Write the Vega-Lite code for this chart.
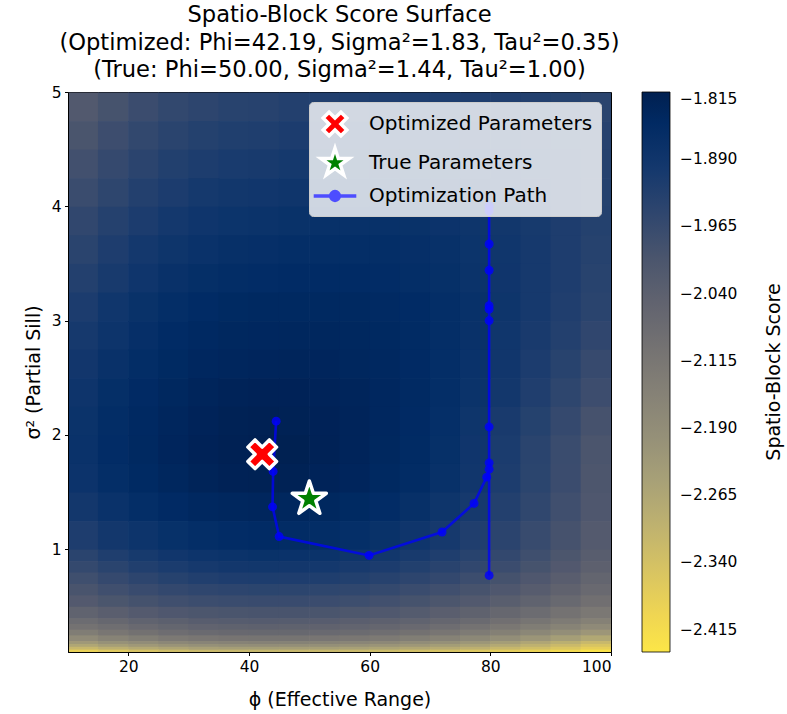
{
"$schema":"https://vega.github.io/schema/vega-lite/v6.json",
"width":543,"height":560,
"padding":{"left":24,"top":4,"right":0,"bottom":4},
"background":"white",
"config":{"font":"DejaVu Sans","view":{"stroke":"black","strokeWidth":1},
"axis":{"labelFontSize":15.5,"titleFontSize":19,"labelColor":"black","titleColor":"black","tickColor":"black","domainColor":"black","tickSize":3.5,"labelPadding":3.5,"grid":false,"titleFontWeight":"normal","labelFont":"DejaVu Sans","titleFont":"DejaVu Sans","format":"d"}},
"title":{"text":["Spatio-Block Score Surface","(Optimized: Phi=42.19, Sigma²=1.83, Tau²=0.35)","(True: Phi=50.00, Sigma²=1.44, Tau²=1.00)"],"fontSize":22.6,"fontWeight":"normal","lineHeight":27.5,"offset":3,"anchor":"middle","color":"black","font":"DejaVu Sans"},
"layer":[
{"data":{"values":[
{"p":10,"s":4.75,"t":5,"v":-2.016},{"p":15,"s":4.75,"t":5,"v":-1.992},{"p":20,"s":4.75,"t":5,"v":-1.972},{"p":25,"s":4.75,"t":5,"v":-1.956},{"p":30,"s":4.75,"t":5,"v":-1.945},{"p":35,"s":4.75,"t":5,"v":-1.938},{"p":40,"s":4.75,"t":5,"v":-1.935},{"p":45,"s":4.75,"t":5,"v":-1.929},{"p":50,"s":4.75,"t":5,"v":-1.924},{"p":55,"s":4.75,"t":5,"v":-1.921},{"p":60,"s":4.75,"t":5,"v":-1.918},{"p":65,"s":4.75,"t":5,"v":-1.917},{"p":70,"s":4.75,"t":5,"v":-1.917},{"p":75,"s":4.75,"t":5,"v":-1.919},{"p":80,"s":4.75,"t":5,"v":-1.922},{"p":85,"s":4.75,"t":5,"v":-1.927},{"p":90,"s":4.75,"t":5,"v":-1.933},{"p":95,"s":4.75,"t":5,"v":-1.940},
{"p":10,"s":4.5,"t":4.75,"v":-1.999},{"p":15,"s":4.5,"t":4.75,"v":-1.975},{"p":20,"s":4.5,"t":4.75,"v":-1.956},{"p":25,"s":4.5,"t":4.75,"v":-1.941},{"p":30,"s":4.5,"t":4.75,"v":-1.930},{"p":35,"s":4.5,"t":4.75,"v":-1.923},{"p":40,"s":4.5,"t":4.75,"v":-1.920},{"p":45,"s":4.5,"t":4.75,"v":-1.915},{"p":50,"s":4.5,"t":4.75,"v":-1.910},{"p":55,"s":4.5,"t":4.75,"v":-1.907},{"p":60,"s":4.5,"t":4.75,"v":-1.905},{"p":65,"s":4.5,"t":4.75,"v":-1.905},{"p":70,"s":4.5,"t":4.75,"v":-1.906},{"p":75,"s":4.5,"t":4.75,"v":-1.910},{"p":80,"s":4.5,"t":4.75,"v":-1.913},{"p":85,"s":4.5,"t":4.75,"v":-1.919},{"p":90,"s":4.5,"t":4.75,"v":-1.927},{"p":95,"s":4.5,"t":4.75,"v":-1.935},
{"p":10,"s":4.25,"t":4.5,"v":-1.984},{"p":15,"s":4.25,"t":4.5,"v":-1.961},{"p":20,"s":4.25,"t":4.5,"v":-1.942},{"p":25,"s":4.25,"t":4.5,"v":-1.927},{"p":30,"s":4.25,"t":4.5,"v":-1.917},{"p":35,"s":4.25,"t":4.5,"v":-1.910},{"p":40,"s":4.25,"t":4.5,"v":-1.907},{"p":45,"s":4.25,"t":4.5,"v":-1.903},{"p":50,"s":4.25,"t":4.5,"v":-1.899},{"p":55,"s":4.25,"t":4.5,"v":-1.897},{"p":60,"s":4.25,"t":4.5,"v":-1.895},{"p":65,"s":4.25,"t":4.5,"v":-1.897},{"p":70,"s":4.25,"t":4.5,"v":-1.899},{"p":75,"s":4.25,"t":4.5,"v":-1.903},{"p":80,"s":4.25,"t":4.5,"v":-1.907},{"p":85,"s":4.25,"t":4.5,"v":-1.915},{"p":90,"s":4.25,"t":4.5,"v":-1.924},{"p":95,"s":4.25,"t":4.5,"v":-1.934},
{"p":10,"s":4.0,"t":4.25,"v":-1.969},{"p":15,"s":4.0,"t":4.25,"v":-1.947},{"p":20,"s":4.0,"t":4.25,"v":-1.928},{"p":25,"s":4.0,"t":4.25,"v":-1.914},{"p":30,"s":4.0,"t":4.25,"v":-1.903},{"p":35,"s":4.0,"t":4.25,"v":-1.897},{"p":40,"s":4.0,"t":4.25,"v":-1.894},{"p":45,"s":4.0,"t":4.25,"v":-1.889},{"p":50,"s":4.0,"t":4.25,"v":-1.886},{"p":55,"s":4.0,"t":4.25,"v":-1.885},{"p":60,"s":4.0,"t":4.25,"v":-1.885},{"p":65,"s":4.0,"t":4.25,"v":-1.887},{"p":70,"s":4.0,"t":4.25,"v":-1.889},{"p":75,"s":4.0,"t":4.25,"v":-1.895},{"p":80,"s":4.0,"t":4.25,"v":-1.901},{"p":85,"s":4.0,"t":4.25,"v":-1.911},{"p":90,"s":4.0,"t":4.25,"v":-1.921},{"p":95,"s":4.0,"t":4.25,"v":-1.933},
{"p":10,"s":3.75,"t":4.0,"v":-1.954},{"p":15,"s":3.75,"t":4.0,"v":-1.932},{"p":20,"s":3.75,"t":4.0,"v":-1.914},{"p":25,"s":3.75,"t":4.0,"v":-1.900},{"p":30,"s":3.75,"t":4.0,"v":-1.890},{"p":35,"s":3.75,"t":4.0,"v":-1.883},{"p":40,"s":3.75,"t":4.0,"v":-1.881},{"p":45,"s":3.75,"t":4.0,"v":-1.877},{"p":50,"s":3.75,"t":4.0,"v":-1.874},{"p":55,"s":3.75,"t":4.0,"v":-1.874},{"p":60,"s":3.75,"t":4.0,"v":-1.875},{"p":65,"s":3.75,"t":4.0,"v":-1.877},{"p":70,"s":3.75,"t":4.0,"v":-1.882},{"p":75,"s":3.75,"t":4.0,"v":-1.888},{"p":80,"s":3.75,"t":4.0,"v":-1.897},{"p":85,"s":3.75,"t":4.0,"v":-1.906},{"p":90,"s":3.75,"t":4.0,"v":-1.918},{"p":95,"s":3.75,"t":4.0,"v":-1.931},
{"p":10,"s":3.5,"t":3.75,"v":-1.940},{"p":15,"s":3.5,"t":3.75,"v":-1.919},{"p":20,"s":3.5,"t":3.75,"v":-1.901},{"p":25,"s":3.5,"t":3.75,"v":-1.888},{"p":30,"s":3.5,"t":3.75,"v":-1.878},{"p":35,"s":3.5,"t":3.75,"v":-1.871},{"p":40,"s":3.5,"t":3.75,"v":-1.869},{"p":45,"s":3.5,"t":3.75,"v":-1.865},{"p":50,"s":3.5,"t":3.75,"v":-1.863},{"p":55,"s":3.5,"t":3.75,"v":-1.863},{"p":60,"s":3.5,"t":3.75,"v":-1.865},{"p":65,"s":3.5,"t":3.75,"v":-1.869},{"p":70,"s":3.5,"t":3.75,"v":-1.875},{"p":75,"s":3.5,"t":3.75,"v":-1.883},{"p":80,"s":3.5,"t":3.75,"v":-1.893},{"p":85,"s":3.5,"t":3.75,"v":-1.904},{"p":90,"s":3.5,"t":3.75,"v":-1.918},{"p":95,"s":3.5,"t":3.75,"v":-1.934},
{"p":10,"s":3.25,"t":3.5,"v":-1.928},{"p":15,"s":3.25,"t":3.5,"v":-1.907},{"p":20,"s":3.25,"t":3.5,"v":-1.890},{"p":25,"s":3.25,"t":3.5,"v":-1.876},{"p":30,"s":3.25,"t":3.5,"v":-1.867},{"p":35,"s":3.25,"t":3.5,"v":-1.861},{"p":40,"s":3.25,"t":3.5,"v":-1.858},{"p":45,"s":3.25,"t":3.5,"v":-1.856},{"p":50,"s":3.25,"t":3.5,"v":-1.855},{"p":55,"s":3.25,"t":3.5,"v":-1.855},{"p":60,"s":3.25,"t":3.5,"v":-1.858},{"p":65,"s":3.25,"t":3.5,"v":-1.863},{"p":70,"s":3.25,"t":3.5,"v":-1.870},{"p":75,"s":3.25,"t":3.5,"v":-1.880},{"p":80,"s":3.25,"t":3.5,"v":-1.891},{"p":85,"s":3.25,"t":3.5,"v":-1.904},{"p":90,"s":3.25,"t":3.5,"v":-1.919},{"p":95,"s":3.25,"t":3.5,"v":-1.937},
{"p":10,"s":3.0,"t":3.25,"v":-1.914},{"p":15,"s":3.0,"t":3.25,"v":-1.893},{"p":20,"s":3.0,"t":3.25,"v":-1.877},{"p":25,"s":3.0,"t":3.25,"v":-1.864},{"p":30,"s":3.0,"t":3.25,"v":-1.854},{"p":35,"s":3.0,"t":3.25,"v":-1.848},{"p":40,"s":3.0,"t":3.25,"v":-1.846},{"p":45,"s":3.0,"t":3.25,"v":-1.844},{"p":50,"s":3.0,"t":3.25,"v":-1.844},{"p":55,"s":3.0,"t":3.25,"v":-1.845},{"p":60,"s":3.0,"t":3.25,"v":-1.850},{"p":65,"s":3.0,"t":3.25,"v":-1.856},{"p":70,"s":3.0,"t":3.25,"v":-1.864},{"p":75,"s":3.0,"t":3.25,"v":-1.875},{"p":80,"s":3.0,"t":3.25,"v":-1.888},{"p":85,"s":3.0,"t":3.25,"v":-1.904},{"p":90,"s":3.0,"t":3.25,"v":-1.922},{"p":95,"s":3.0,"t":3.25,"v":-1.941},
{"p":10,"s":2.75,"t":3.0,"v":-1.905},{"p":15,"s":2.75,"t":3.0,"v":-1.885},{"p":20,"s":2.75,"t":3.0,"v":-1.869},{"p":25,"s":2.75,"t":3.0,"v":-1.856},{"p":30,"s":2.75,"t":3.0,"v":-1.847},{"p":35,"s":2.75,"t":3.0,"v":-1.841},{"p":40,"s":2.75,"t":3.0,"v":-1.839},{"p":45,"s":2.75,"t":3.0,"v":-1.838},{"p":50,"s":2.75,"t":3.0,"v":-1.838},{"p":55,"s":2.75,"t":3.0,"v":-1.840},{"p":60,"s":2.75,"t":3.0,"v":-1.846},{"p":65,"s":2.75,"t":3.0,"v":-1.853},{"p":70,"s":2.75,"t":3.0,"v":-1.864},{"p":75,"s":2.75,"t":3.0,"v":-1.876},{"p":80,"s":2.75,"t":3.0,"v":-1.892},{"p":85,"s":2.75,"t":3.0,"v":-1.909},{"p":90,"s":2.75,"t":3.0,"v":-1.929},{"p":95,"s":2.75,"t":3.0,"v":-1.951},
{"p":10,"s":2.5,"t":2.75,"v":-1.896},{"p":15,"s":2.5,"t":2.75,"v":-1.876},{"p":20,"s":2.5,"t":2.75,"v":-1.861},{"p":25,"s":2.5,"t":2.75,"v":-1.848},{"p":30,"s":2.5,"t":2.75,"v":-1.839},{"p":35,"s":2.5,"t":2.75,"v":-1.834},{"p":40,"s":2.5,"t":2.75,"v":-1.832},{"p":45,"s":2.5,"t":2.75,"v":-1.831},{"p":50,"s":2.5,"t":2.75,"v":-1.832},{"p":55,"s":2.5,"t":2.75,"v":-1.837},{"p":60,"s":2.5,"t":2.75,"v":-1.843},{"p":65,"s":2.5,"t":2.75,"v":-1.852},{"p":70,"s":2.5,"t":2.75,"v":-1.864},{"p":75,"s":2.5,"t":2.75,"v":-1.879},{"p":80,"s":2.5,"t":2.75,"v":-1.895},{"p":85,"s":2.5,"t":2.75,"v":-1.915},{"p":90,"s":2.5,"t":2.75,"v":-1.937},{"p":95,"s":2.5,"t":2.75,"v":-1.963},
{"p":10,"s":2.25,"t":2.5,"v":-1.886},{"p":15,"s":2.25,"t":2.5,"v":-1.867},{"p":20,"s":2.25,"t":2.5,"v":-1.852},{"p":25,"s":2.25,"t":2.5,"v":-1.840},{"p":30,"s":2.25,"t":2.5,"v":-1.831},{"p":35,"s":2.25,"t":2.5,"v":-1.825},{"p":40,"s":2.25,"t":2.5,"v":-1.823},{"p":45,"s":2.25,"t":2.5,"v":-1.823},{"p":50,"s":2.25,"t":2.5,"v":-1.826},{"p":55,"s":2.25,"t":2.5,"v":-1.831},{"p":60,"s":2.25,"t":2.5,"v":-1.839},{"p":65,"s":2.25,"t":2.5,"v":-1.850},{"p":70,"s":2.25,"t":2.5,"v":-1.864},{"p":75,"s":2.25,"t":2.5,"v":-1.880},{"p":80,"s":2.25,"t":2.5,"v":-1.899},{"p":85,"s":2.25,"t":2.5,"v":-1.922},{"p":90,"s":2.25,"t":2.5,"v":-1.947},{"p":95,"s":2.25,"t":2.5,"v":-1.975},
{"p":10,"s":2.0,"t":2.25,"v":-1.881},{"p":15,"s":2.0,"t":2.25,"v":-1.862},{"p":20,"s":2.0,"t":2.25,"v":-1.847},{"p":25,"s":2.0,"t":2.25,"v":-1.835},{"p":30,"s":2.0,"t":2.25,"v":-1.826},{"p":35,"s":2.0,"t":2.25,"v":-1.821},{"p":40,"s":2.0,"t":2.25,"v":-1.819},{"p":45,"s":2.0,"t":2.25,"v":-1.820},{"p":50,"s":2.0,"t":2.25,"v":-1.823},{"p":55,"s":2.0,"t":2.25,"v":-1.829},{"p":60,"s":2.0,"t":2.25,"v":-1.839},{"p":65,"s":2.0,"t":2.25,"v":-1.852},{"p":70,"s":2.0,"t":2.25,"v":-1.868},{"p":75,"s":2.0,"t":2.25,"v":-1.887},{"p":80,"s":2.0,"t":2.25,"v":-1.909},{"p":85,"s":2.0,"t":2.25,"v":-1.933},{"p":90,"s":2.0,"t":2.25,"v":-1.961},{"p":95,"s":2.0,"t":2.25,"v":-1.991},
{"p":10,"s":1.75,"t":2.0,"v":-1.879},{"p":15,"s":1.75,"t":2.0,"v":-1.859},{"p":20,"s":1.75,"t":2.0,"v":-1.845},{"p":25,"s":1.75,"t":2.0,"v":-1.833},{"p":30,"s":1.75,"t":2.0,"v":-1.823},{"p":35,"s":1.75,"t":2.0,"v":-1.819},{"p":40,"s":1.75,"t":2.0,"v":-1.816},{"p":45,"s":1.75,"t":2.0,"v":-1.817},{"p":50,"s":1.75,"t":2.0,"v":-1.822},{"p":55,"s":1.75,"t":2.0,"v":-1.829},{"p":60,"s":1.75,"t":2.0,"v":-1.840},{"p":65,"s":1.75,"t":2.0,"v":-1.853},{"p":70,"s":1.75,"t":2.0,"v":-1.870},{"p":75,"s":1.75,"t":2.0,"v":-1.891},{"p":80,"s":1.75,"t":2.0,"v":-1.913},{"p":85,"s":1.75,"t":2.0,"v":-1.940},{"p":90,"s":1.75,"t":2.0,"v":-1.969},{"p":95,"s":1.75,"t":2.0,"v":-2.001},
{"p":10,"s":1.5,"t":1.75,"v":-1.882},{"p":15,"s":1.5,"t":1.75,"v":-1.863},{"p":20,"s":1.5,"t":1.75,"v":-1.849},{"p":25,"s":1.5,"t":1.75,"v":-1.837},{"p":30,"s":1.5,"t":1.75,"v":-1.827},{"p":35,"s":1.5,"t":1.75,"v":-1.822},{"p":40,"s":1.5,"t":1.75,"v":-1.820},{"p":45,"s":1.5,"t":1.75,"v":-1.821},{"p":50,"s":1.5,"t":1.75,"v":-1.826},{"p":55,"s":1.5,"t":1.75,"v":-1.833},{"p":60,"s":1.5,"t":1.75,"v":-1.844},{"p":65,"s":1.5,"t":1.75,"v":-1.857},{"p":70,"s":1.5,"t":1.75,"v":-1.874},{"p":75,"s":1.5,"t":1.75,"v":-1.894},{"p":80,"s":1.5,"t":1.75,"v":-1.917},{"p":85,"s":1.5,"t":1.75,"v":-1.943},{"p":90,"s":1.5,"t":1.75,"v":-1.972},{"p":95,"s":1.5,"t":1.75,"v":-2.005},
{"p":10,"s":1.25,"t":1.5,"v":-1.898},{"p":15,"s":1.25,"t":1.5,"v":-1.879},{"p":20,"s":1.25,"t":1.5,"v":-1.864},{"p":25,"s":1.25,"t":1.5,"v":-1.852},{"p":30,"s":1.25,"t":1.5,"v":-1.843},{"p":35,"s":1.25,"t":1.5,"v":-1.838},{"p":40,"s":1.25,"t":1.5,"v":-1.835},{"p":45,"s":1.25,"t":1.5,"v":-1.837},{"p":50,"s":1.25,"t":1.5,"v":-1.840},{"p":55,"s":1.25,"t":1.5,"v":-1.848},{"p":60,"s":1.25,"t":1.5,"v":-1.858},{"p":65,"s":1.25,"t":1.5,"v":-1.871},{"p":70,"s":1.25,"t":1.5,"v":-1.887},{"p":75,"s":1.25,"t":1.5,"v":-1.905},{"p":80,"s":1.25,"t":1.5,"v":-1.928},{"p":85,"s":1.25,"t":1.5,"v":-1.952},{"p":90,"s":1.25,"t":1.5,"v":-1.980},{"p":95,"s":1.25,"t":1.5,"v":-2.010},
{"p":10,"s":1.0,"t":1.25,"v":-1.918},{"p":15,"s":1.0,"t":1.25,"v":-1.899},{"p":20,"s":1.0,"t":1.25,"v":-1.885},{"p":25,"s":1.0,"t":1.25,"v":-1.873},{"p":30,"s":1.0,"t":1.25,"v":-1.863},{"p":35,"s":1.0,"t":1.25,"v":-1.858},{"p":40,"s":1.0,"t":1.25,"v":-1.856},{"p":45,"s":1.0,"t":1.25,"v":-1.857},{"p":50,"s":1.0,"t":1.25,"v":-1.861},{"p":55,"s":1.0,"t":1.25,"v":-1.868},{"p":60,"s":1.0,"t":1.25,"v":-1.877},{"p":65,"s":1.0,"t":1.25,"v":-1.890},{"p":70,"s":1.0,"t":1.25,"v":-1.905},{"p":75,"s":1.0,"t":1.25,"v":-1.922},{"p":80,"s":1.0,"t":1.25,"v":-1.942},{"p":85,"s":1.0,"t":1.25,"v":-1.966},{"p":90,"s":1.0,"t":1.25,"v":-1.991},{"p":95,"s":1.0,"t":1.25,"v":-2.020},
{"p":10,"s":0.9,"t":1.0,"v":-1.940},{"p":15,"s":0.9,"t":1.0,"v":-1.921},{"p":20,"s":0.9,"t":1.0,"v":-1.906},{"p":25,"s":0.9,"t":1.0,"v":-1.894},{"p":30,"s":0.9,"t":1.0,"v":-1.885},{"p":35,"s":0.9,"t":1.0,"v":-1.880},{"p":40,"s":0.9,"t":1.0,"v":-1.877},{"p":45,"s":0.9,"t":1.0,"v":-1.879},{"p":50,"s":0.9,"t":1.0,"v":-1.881},{"p":55,"s":0.9,"t":1.0,"v":-1.888},{"p":60,"s":0.9,"t":1.0,"v":-1.897},{"p":65,"s":0.9,"t":1.0,"v":-1.908},{"p":70,"s":0.9,"t":1.0,"v":-1.921},{"p":75,"s":0.9,"t":1.0,"v":-1.938},{"p":80,"s":0.9,"t":1.0,"v":-1.958},{"p":85,"s":0.9,"t":1.0,"v":-1.979},{"p":90,"s":0.9,"t":1.0,"v":-2.003},{"p":95,"s":0.9,"t":1.0,"v":-2.030},
{"p":10,"s":0.8,"t":0.9,"v":-1.959},{"p":15,"s":0.8,"t":0.9,"v":-1.940},{"p":20,"s":0.8,"t":0.9,"v":-1.925},{"p":25,"s":0.8,"t":0.9,"v":-1.913},{"p":30,"s":0.8,"t":0.9,"v":-1.904},{"p":35,"s":0.8,"t":0.9,"v":-1.899},{"p":40,"s":0.8,"t":0.9,"v":-1.897},{"p":45,"s":0.8,"t":0.9,"v":-1.898},{"p":50,"s":0.8,"t":0.9,"v":-1.901},{"p":55,"s":0.8,"t":0.9,"v":-1.907},{"p":60,"s":0.8,"t":0.9,"v":-1.915},{"p":65,"s":0.8,"t":0.9,"v":-1.926},{"p":70,"s":0.8,"t":0.9,"v":-1.939},{"p":75,"s":0.8,"t":0.9,"v":-1.954},{"p":80,"s":0.8,"t":0.9,"v":-1.972},{"p":85,"s":0.8,"t":0.9,"v":-1.992},{"p":90,"s":0.8,"t":0.9,"v":-2.015},{"p":95,"s":0.8,"t":0.9,"v":-2.040},
{"p":10,"s":0.7,"t":0.8,"v":-1.979},{"p":15,"s":0.7,"t":0.8,"v":-1.960},{"p":20,"s":0.7,"t":0.8,"v":-1.946},{"p":25,"s":0.7,"t":0.8,"v":-1.934},{"p":30,"s":0.7,"t":0.8,"v":-1.924},{"p":35,"s":0.7,"t":0.8,"v":-1.919},{"p":40,"s":0.7,"t":0.8,"v":-1.917},{"p":45,"s":0.7,"t":0.8,"v":-1.918},{"p":50,"s":0.7,"t":0.8,"v":-1.921},{"p":55,"s":0.7,"t":0.8,"v":-1.927},{"p":60,"s":0.7,"t":0.8,"v":-1.935},{"p":65,"s":0.7,"t":0.8,"v":-1.945},{"p":70,"s":0.7,"t":0.8,"v":-1.958},{"p":75,"s":0.7,"t":0.8,"v":-1.973},{"p":80,"s":0.7,"t":0.8,"v":-1.989},{"p":85,"s":0.7,"t":0.8,"v":-2.009},{"p":90,"s":0.7,"t":0.8,"v":-2.031},{"p":95,"s":0.7,"t":0.8,"v":-2.055},
{"p":10,"s":0.6,"t":0.7,"v":-1.997},{"p":15,"s":0.6,"t":0.7,"v":-1.980},{"p":20,"s":0.6,"t":0.7,"v":-1.968},{"p":25,"s":0.6,"t":0.7,"v":-1.958},{"p":30,"s":0.6,"t":0.7,"v":-1.950},{"p":35,"s":0.6,"t":0.7,"v":-1.946},{"p":40,"s":0.6,"t":0.7,"v":-1.943},{"p":45,"s":0.6,"t":0.7,"v":-1.944},{"p":50,"s":0.6,"t":0.7,"v":-1.947},{"p":55,"s":0.6,"t":0.7,"v":-1.952},{"p":60,"s":0.6,"t":0.7,"v":-1.959},{"p":65,"s":0.6,"t":0.7,"v":-1.969},{"p":70,"s":0.6,"t":0.7,"v":-1.981},{"p":75,"s":0.6,"t":0.7,"v":-1.994},{"p":80,"s":0.6,"t":0.7,"v":-2.010},{"p":85,"s":0.6,"t":0.7,"v":-2.028},{"p":90,"s":0.6,"t":0.7,"v":-2.048},{"p":95,"s":0.6,"t":0.7,"v":-2.070},
{"p":10,"s":0.5,"t":0.6,"v":-2.018},{"p":15,"s":0.5,"t":0.6,"v":-2.002},{"p":20,"s":0.5,"t":0.6,"v":-1.990},{"p":25,"s":0.5,"t":0.6,"v":-1.981},{"p":30,"s":0.5,"t":0.6,"v":-1.973},{"p":35,"s":0.5,"t":0.6,"v":-1.969},{"p":40,"s":0.5,"t":0.6,"v":-1.967},{"p":45,"s":0.5,"t":0.6,"v":-1.968},{"p":50,"s":0.5,"t":0.6,"v":-1.971},{"p":55,"s":0.5,"t":0.6,"v":-1.976},{"p":60,"s":0.5,"t":0.6,"v":-1.983},{"p":65,"s":0.5,"t":0.6,"v":-1.992},{"p":70,"s":0.5,"t":0.6,"v":-2.003},{"p":75,"s":0.5,"t":0.6,"v":-2.016},{"p":80,"s":0.5,"t":0.6,"v":-2.032},{"p":85,"s":0.5,"t":0.6,"v":-2.049},{"p":90,"s":0.5,"t":0.6,"v":-2.068},{"p":95,"s":0.5,"t":0.6,"v":-2.090},
{"p":10,"s":0.4,"t":0.5,"v":-2.049},{"p":15,"s":0.4,"t":0.5,"v":-2.033},{"p":20,"s":0.4,"t":0.5,"v":-2.020},{"p":25,"s":0.4,"t":0.5,"v":-2.010},{"p":30,"s":0.4,"t":0.5,"v":-2.003},{"p":35,"s":0.4,"t":0.5,"v":-1.999},{"p":40,"s":0.4,"t":0.5,"v":-1.997},{"p":45,"s":0.4,"t":0.5,"v":-1.998},{"p":50,"s":0.4,"t":0.5,"v":-2.000},{"p":55,"s":0.4,"t":0.5,"v":-2.006},{"p":60,"s":0.4,"t":0.5,"v":-2.012},{"p":65,"s":0.4,"t":0.5,"v":-2.022},{"p":70,"s":0.4,"t":0.5,"v":-2.033},{"p":75,"s":0.4,"t":0.5,"v":-2.046},{"p":80,"s":0.4,"t":0.5,"v":-2.062},{"p":85,"s":0.4,"t":0.5,"v":-2.079},{"p":90,"s":0.4,"t":0.5,"v":-2.098},{"p":95,"s":0.4,"t":0.5,"v":-2.120},
{"p":10,"s":0.35,"t":0.4,"v":-2.079},{"p":15,"s":0.35,"t":0.4,"v":-2.062},{"p":20,"s":0.35,"t":0.4,"v":-2.049},{"p":25,"s":0.35,"t":0.4,"v":-2.039},{"p":30,"s":0.35,"t":0.4,"v":-2.030},{"p":35,"s":0.35,"t":0.4,"v":-2.026},{"p":40,"s":0.35,"t":0.4,"v":-2.024},{"p":45,"s":0.35,"t":0.4,"v":-2.025},{"p":50,"s":0.35,"t":0.4,"v":-2.028},{"p":55,"s":0.35,"t":0.4,"v":-2.033},{"p":60,"s":0.35,"t":0.4,"v":-2.040},{"p":65,"s":0.35,"t":0.4,"v":-2.049},{"p":70,"s":0.35,"t":0.4,"v":-2.061},{"p":75,"s":0.35,"t":0.4,"v":-2.074},{"p":80,"s":0.35,"t":0.4,"v":-2.090},{"p":85,"s":0.35,"t":0.4,"v":-2.108},{"p":90,"s":0.35,"t":0.4,"v":-2.128},{"p":95,"s":0.35,"t":0.4,"v":-2.150},
{"p":10,"s":0.3,"t":0.35,"v":-2.101},{"p":15,"s":0.3,"t":0.35,"v":-2.085},{"p":20,"s":0.3,"t":0.35,"v":-2.070},{"p":25,"s":0.3,"t":0.35,"v":-2.059},{"p":30,"s":0.3,"t":0.35,"v":-2.051},{"p":35,"s":0.3,"t":0.35,"v":-2.046},{"p":40,"s":0.3,"t":0.35,"v":-2.044},{"p":45,"s":0.3,"t":0.35,"v":-2.045},{"p":50,"s":0.3,"t":0.35,"v":-2.048},{"p":55,"s":0.3,"t":0.35,"v":-2.053},{"p":60,"s":0.3,"t":0.35,"v":-2.061},{"p":65,"s":0.3,"t":0.35,"v":-2.071},{"p":70,"s":0.3,"t":0.35,"v":-2.083},{"p":75,"s":0.3,"t":0.35,"v":-2.099},{"p":80,"s":0.3,"t":0.35,"v":-2.116},{"p":85,"s":0.3,"t":0.35,"v":-2.135},{"p":90,"s":0.3,"t":0.35,"v":-2.156},{"p":95,"s":0.3,"t":0.35,"v":-2.180},
{"p":10,"s":0.25,"t":0.3,"v":-2.135},{"p":15,"s":0.25,"t":0.3,"v":-2.114},{"p":20,"s":0.25,"t":0.3,"v":-2.097},{"p":25,"s":0.25,"t":0.3,"v":-2.083},{"p":30,"s":0.25,"t":0.3,"v":-2.073},{"p":35,"s":0.25,"t":0.3,"v":-2.067},{"p":40,"s":0.25,"t":0.3,"v":-2.065},{"p":45,"s":0.25,"t":0.3,"v":-2.066},{"p":50,"s":0.25,"t":0.3,"v":-2.070},{"p":55,"s":0.25,"t":0.3,"v":-2.076},{"p":60,"s":0.25,"t":0.3,"v":-2.085},{"p":65,"s":0.25,"t":0.3,"v":-2.097},{"p":70,"s":0.25,"t":0.3,"v":-2.110},{"p":75,"s":0.25,"t":0.3,"v":-2.128},{"p":80,"s":0.25,"t":0.3,"v":-2.147},{"p":85,"s":0.25,"t":0.3,"v":-2.169},{"p":90,"s":0.25,"t":0.3,"v":-2.193},{"p":95,"s":0.25,"t":0.3,"v":-2.220},
{"p":10,"s":0.2,"t":0.25,"v":-2.179},{"p":15,"s":0.2,"t":0.25,"v":-2.157},{"p":20,"s":0.2,"t":0.25,"v":-2.139},{"p":25,"s":0.2,"t":0.25,"v":-2.124},{"p":30,"s":0.2,"t":0.25,"v":-2.114},{"p":35,"s":0.2,"t":0.25,"v":-2.107},{"p":40,"s":0.2,"t":0.25,"v":-2.105},{"p":45,"s":0.2,"t":0.25,"v":-2.106},{"p":50,"s":0.2,"t":0.25,"v":-2.110},{"p":55,"s":0.2,"t":0.25,"v":-2.117},{"p":60,"s":0.2,"t":0.25,"v":-2.127},{"p":65,"s":0.2,"t":0.25,"v":-2.138},{"p":70,"s":0.2,"t":0.25,"v":-2.153},{"p":75,"s":0.2,"t":0.25,"v":-2.171},{"p":80,"s":0.2,"t":0.25,"v":-2.192},{"p":85,"s":0.2,"t":0.25,"v":-2.215},{"p":90,"s":0.2,"t":0.25,"v":-2.241},{"p":95,"s":0.2,"t":0.25,"v":-2.270},
{"p":10,"s":0.175,"t":0.2,"v":-2.224},{"p":15,"s":0.175,"t":0.2,"v":-2.202},{"p":20,"s":0.175,"t":0.2,"v":-2.184},{"p":25,"s":0.175,"t":0.2,"v":-2.169},{"p":30,"s":0.175,"t":0.2,"v":-2.159},{"p":35,"s":0.175,"t":0.2,"v":-2.152},{"p":40,"s":0.175,"t":0.2,"v":-2.150},{"p":45,"s":0.175,"t":0.2,"v":-2.151},{"p":50,"s":0.175,"t":0.2,"v":-2.155},{"p":55,"s":0.175,"t":0.2,"v":-2.162},{"p":60,"s":0.175,"t":0.2,"v":-2.172},{"p":65,"s":0.175,"t":0.2,"v":-2.184},{"p":70,"s":0.175,"t":0.2,"v":-2.200},{"p":75,"s":0.175,"t":0.2,"v":-2.218},{"p":80,"s":0.175,"t":0.2,"v":-2.239},{"p":85,"s":0.175,"t":0.2,"v":-2.263},{"p":90,"s":0.175,"t":0.2,"v":-2.290},{"p":95,"s":0.175,"t":0.2,"v":-2.319},
{"p":10,"s":0.15,"t":0.175,"v":-2.264},{"p":15,"s":0.15,"t":0.175,"v":-2.242},{"p":20,"s":0.15,"t":0.175,"v":-2.224},{"p":25,"s":0.15,"t":0.175,"v":-2.209},{"p":30,"s":0.15,"t":0.175,"v":-2.199},{"p":35,"s":0.15,"t":0.175,"v":-2.192},{"p":40,"s":0.15,"t":0.175,"v":-2.190},{"p":45,"s":0.15,"t":0.175,"v":-2.191},{"p":50,"s":0.15,"t":0.175,"v":-2.195},{"p":55,"s":0.15,"t":0.175,"v":-2.201},{"p":60,"s":0.15,"t":0.175,"v":-2.211},{"p":65,"s":0.15,"t":0.175,"v":-2.222},{"p":70,"s":0.15,"t":0.175,"v":-2.237},{"p":75,"s":0.15,"t":0.175,"v":-2.254},{"p":80,"s":0.15,"t":0.175,"v":-2.274},{"p":85,"s":0.15,"t":0.175,"v":-2.297},{"p":90,"s":0.15,"t":0.175,"v":-2.322},{"p":95,"s":0.15,"t":0.175,"v":-2.350},
{"p":10,"s":0.125,"t":0.15,"v":-2.314},{"p":15,"s":0.125,"t":0.15,"v":-2.292},{"p":20,"s":0.125,"t":0.15,"v":-2.274},{"p":25,"s":0.125,"t":0.15,"v":-2.259},{"p":30,"s":0.125,"t":0.15,"v":-2.249},{"p":35,"s":0.125,"t":0.15,"v":-2.242},{"p":40,"s":0.125,"t":0.15,"v":-2.240},{"p":45,"s":0.125,"t":0.15,"v":-2.241},{"p":50,"s":0.125,"t":0.15,"v":-2.244},{"p":55,"s":0.125,"t":0.15,"v":-2.250},{"p":60,"s":0.125,"t":0.15,"v":-2.258},{"p":65,"s":0.125,"t":0.15,"v":-2.268},{"p":70,"s":0.125,"t":0.15,"v":-2.281},{"p":75,"s":0.125,"t":0.15,"v":-2.296},{"p":80,"s":0.125,"t":0.15,"v":-2.313},{"p":85,"s":0.125,"t":0.15,"v":-2.333},{"p":90,"s":0.125,"t":0.15,"v":-2.355},{"p":95,"s":0.125,"t":0.15,"v":-2.380},
{"p":10,"s":0.1,"t":0.125,"v":-2.384},{"p":15,"s":0.1,"t":0.125,"v":-2.362},{"p":20,"s":0.1,"t":0.125,"v":-2.344},{"p":25,"s":0.1,"t":0.125,"v":-2.329},{"p":30,"s":0.1,"t":0.125,"v":-2.319},{"p":35,"s":0.1,"t":0.125,"v":-2.312},{"p":40,"s":0.1,"t":0.125,"v":-2.310},{"p":45,"s":0.1,"t":0.125,"v":-2.311},{"p":50,"s":0.1,"t":0.125,"v":-2.314},{"p":55,"s":0.1,"t":0.125,"v":-2.318},{"p":60,"s":0.1,"t":0.125,"v":-2.325},{"p":65,"s":0.1,"t":0.125,"v":-2.334},{"p":70,"s":0.1,"t":0.125,"v":-2.345},{"p":75,"s":0.1,"t":0.125,"v":-2.358},{"p":80,"s":0.1,"t":0.125,"v":-2.372},{"p":85,"s":0.1,"t":0.125,"v":-2.389},{"p":90,"s":0.1,"t":0.125,"v":-2.408},{"p":95,"s":0.1,"t":0.125,"v":-2.429}
]},
"mark":{"type":"rect","x2Offset":-0.7,"y2Offset":0.7,"clip":true},
"encoding":{
"x":{"field":"p","type":"quantitative","bin":{"binned":true,"step":5},"scale":{"domain":[10,100],"nice":false,"zero":false},"axis":{"values":[20,40,60,80,100],"title":"ϕ (Effective Range)","titlePadding":16}},
"y":{"field":"s","type":"quantitative","bin":{"binned":true},"scale":{"domain":[0.1,5],"nice":false,"zero":false},"axis":{"values":[1,2,3,4,5],"title":"σ² (Partial Sill)","titlePadding":8}},
"y2":{"field":"t"},
"color":{"field":"v","type":"quantitative","scale":{"scheme":"cividis","reverse":true,"domain":[-2.44,-1.815]},
"legend":{"title":"Spatio-Block Score","orient":"right","offset":31,"direction":"vertical","gradientLength":560,"gradientThickness":28,"values":[-2.415,-2.34,-2.265,-2.19,-2.115,-2.04,-1.965,-1.89,-1.815],"format":".3f","labelFontSize":15.5,"labelFont":"DejaVu Sans","labelColor":"black","labelOffset":10,"labelOverlap":false,"titleOrient":"right","titleFontSize":19,"titleFontWeight":"normal","titleFont":"DejaVu Sans","titleColor":"black","titleAnchor":"middle","titlePadding":47,"gradientStrokeColor":"black","gradientStrokeWidth":0.8,"encode":{"title":{"update":{"angle":{"value":270}}}}}}
}},
{"data":{"values":[
{"i":0,"p":79.8,"s":0.77},{"i":1,"p":79.8,"s":4.0},{"i":2,"p":79.8,"s":2.07},{"i":3,"p":79.8,"s":3.96},{"i":4,"p":79.8,"s":3.0},{"i":5,"p":79.8,"s":3.67},{"i":6,"p":79.8,"s":3.13},{"i":7,"p":79.8,"s":3.44},{"i":8,"p":79.8,"s":3.1},{"i":9,"p":79.8,"s":1.755},{"i":10,"p":79.8,"s":1.7},{"i":11,"p":79.4,"s":1.63},{"i":12,"p":77.3,"s":1.4},{"i":13,"p":72.0,"s":1.15},{"i":14,"p":59.9,"s":0.945},{"i":15,"p":45.0,"s":1.11},{"i":16,"p":43.9,"s":1.37},{"i":17,"p":44.0,"s":1.68},{"i":18,"p":44.5,"s":2.12}
]},
"layer":[
{"mark":{"type":"line","color":"blue","opacity":0.75,"strokeWidth":2.6},
"encoding":{"x":{"field":"p","type":"quantitative","title":"ϕ (Effective Range)"},"y":{"field":"s","type":"quantitative","title":"σ² (Partial Sill)"},"order":{"field":"i","type":"quantitative"}}},
{"mark":{"type":"point","filled":true,"shape":"circle","size":80,"color":"blue","opacity":0.8},
"encoding":{"x":{"field":"p","type":"quantitative","title":"ϕ (Effective Range)"},"y":{"field":"s","type":"quantitative","title":"σ² (Partial Sill)"}}}
]},
{"data":{"values":[{"p":42.19,"s":1.83,"lab":"Optimized Parameters"},{"p":50.0,"s":1.44,"lab":"True Parameters"}]},
"mark":{"type":"point","filled":true,"opacity":1,"strokeJoin":"round","size":820},
"encoding":{
"x":{"field":"p","type":"quantitative","title":"ϕ (Effective Range)"},
"y":{"field":"s","type":"quantitative","title":"σ² (Partial Sill)"},
"shape":{"field":"lab","type":"nominal","scale":{"domain":["Optimized Parameters","True Parameters","Optimization Path"],"range":["M0,-0.5L0.5,-1L1,-0.5L0.5,0L1,0.5L0.5,1L0,0.5L-0.5,1L-1,0.5L-0.5,0L-1,-0.5L-0.5,-1Z","M0,-1.25L0.281,-0.386L1.189,-0.386L0.454,0.148L0.735,1.011L0,0.478L-0.735,1.011L-0.454,0.148L-1.189,-0.386L-0.281,-0.386Z","M-1.8,0L1.8,0M-0.37,0A0.37,0.37 0 1 1 0.37,0A0.37,0.37 0 1 1 -0.37,0Z"]},
"legend":{"title":null,"orient":"top-right","offset":10,"labelFontSize":20,"labelFont":"DejaVu Sans","labelColor":"black","labelOffset":20,"labelLimit":400,"fillColor":"rgba(255,255,255,0.8)","strokeColor":"#cccccc","cornerRadius":4,"padding":8,"rowPadding":-2,"symbolOffset":4,"symbolSize":560,"encode":{"symbols":{"update":{"strokeJoin":{"value":"round"}}}}}},
"fill":{"field":"lab","type":"nominal","scale":{"domain":["Optimized Parameters","True Parameters","Optimization Path"],"range":["red","green","#4d4dff"]},"legend":{"title":null,"orient":"top-right","offset":10,"labelFontSize":20,"labelFont":"DejaVu Sans","labelColor":"black","labelOffset":20,"labelLimit":400,"fillColor":"rgba(255,255,255,0.8)","strokeColor":"#cccccc","cornerRadius":4,"padding":8,"rowPadding":-2,"symbolOffset":4,"symbolSize":560,"encode":{"symbols":{"update":{"strokeJoin":{"value":"round"}}}}}},
"stroke":{"field":"lab","type":"nominal","scale":{"domain":["Optimized Parameters","True Parameters","Optimization Path"],"range":["white","white","#4d4dff"]},"legend":{"title":null,"orient":"top-right","offset":10,"labelFontSize":20,"labelFont":"DejaVu Sans","labelColor":"black","labelOffset":20,"labelLimit":400,"fillColor":"rgba(255,255,255,0.8)","strokeColor":"#cccccc","cornerRadius":4,"padding":8,"rowPadding":-2,"symbolOffset":4,"symbolSize":560,"encode":{"symbols":{"update":{"strokeJoin":{"value":"round"}}}}}},
"strokeWidth":{"field":"lab","type":"nominal","scale":{"domain":["Optimized Parameters","True Parameters","Optimization Path"],"range":[3.5,3.5,2.2]},"legend":{"title":null,"orient":"top-right","offset":10,"labelFontSize":20,"labelFont":"DejaVu Sans","labelColor":"black","labelOffset":20,"labelLimit":400,"fillColor":"rgba(255,255,255,0.8)","strokeColor":"#cccccc","cornerRadius":4,"padding":8,"rowPadding":-2,"symbolOffset":4,"symbolSize":560,"encode":{"symbols":{"update":{"strokeJoin":{"value":"round"}}}}}}
}}
]
}
